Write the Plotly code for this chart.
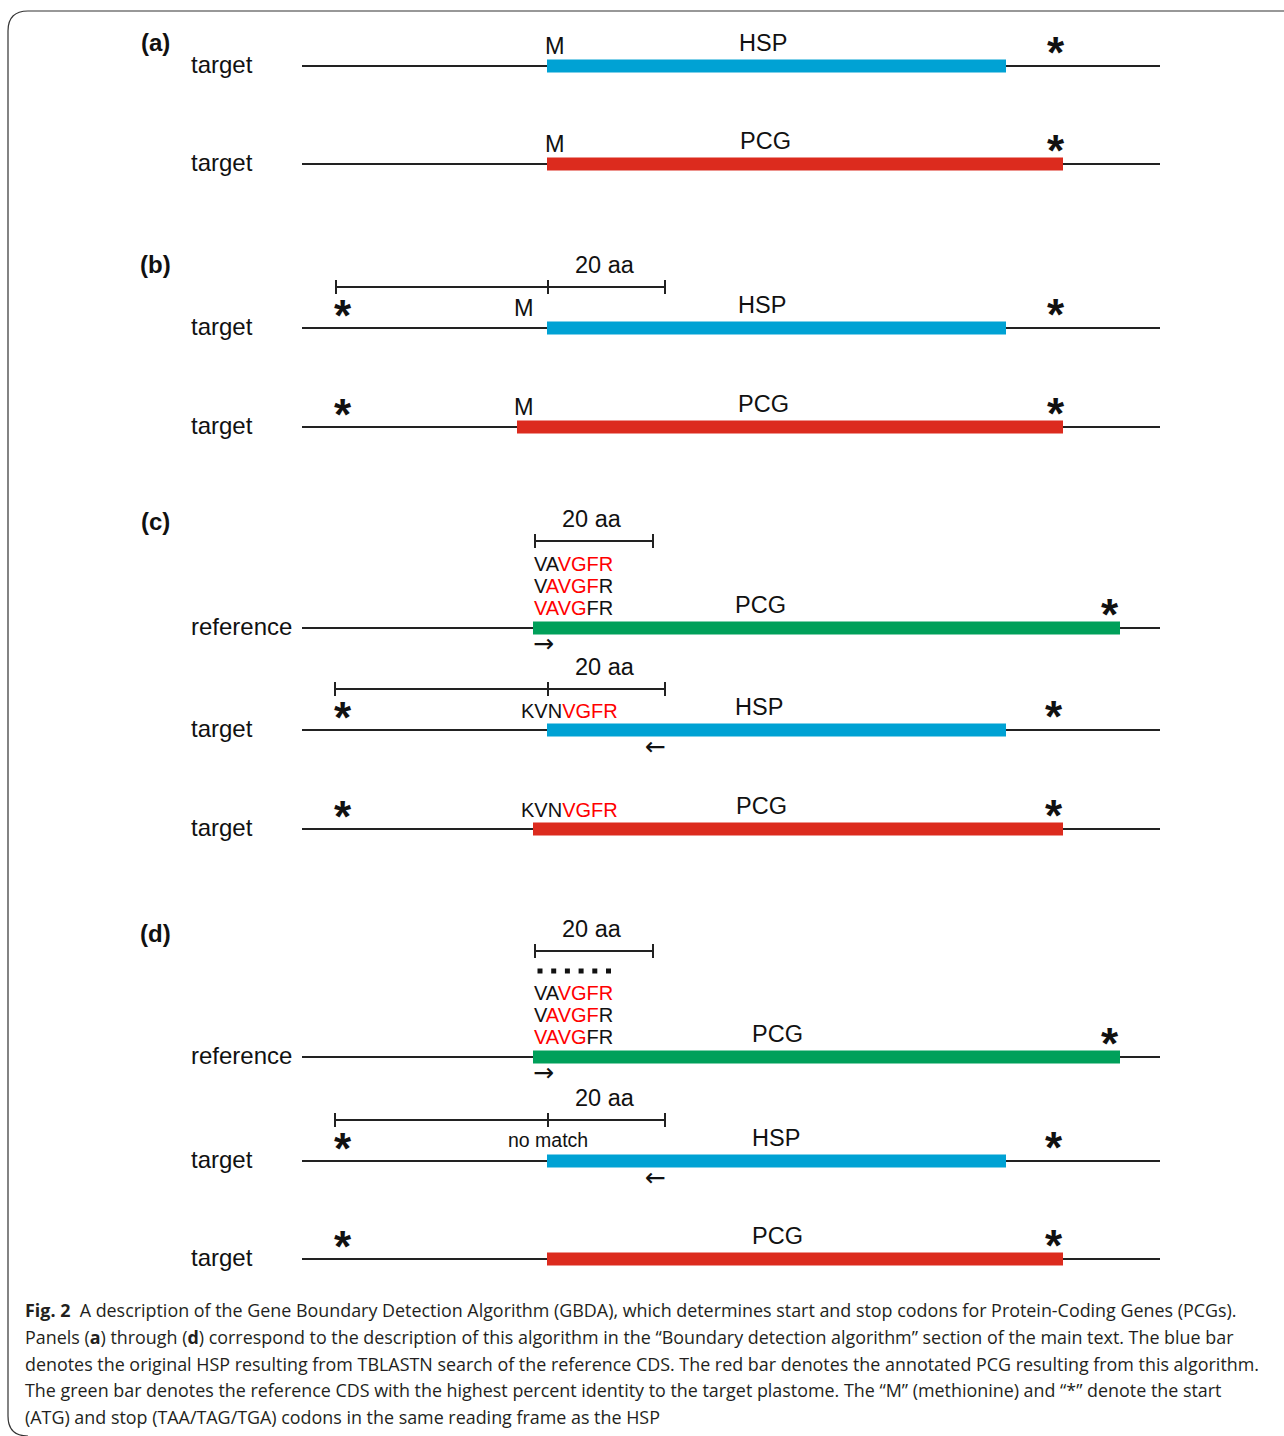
import plotly.graph_objects as go

# ---------------- data ----------------
row_labels = ["target", "target", "target", "target", "reference",
              "target", "target", "reference", "target", "target"]
row_panel = ["a", "a", "b", "b", "c", "c", "c", "d", "d", "d"]
bar_kind = ["HSP", "PCG", "HSP", "PCG", "REF", "HSP", "PCG", "REF", "HSP", "PCG"]
bar_text = ["HSP", "PCG", "HSP", "PCG", "PCG", "HSP", "PCG", "PCG", "HSP", "PCG"]
# gene coordinates along the horizontal axis
seq_start = [302] * 10
seq_end = [1160] * 10
bar_start = [547, 547, 547, 517, 533, 547, 533, 533, 547, 547]
bar_end = [1006, 1063, 1006, 1063, 1120, 1006, 1063, 1120, 1006, 1063]
bar_label_pos = [763, 765, 762, 763, 760, 759, 761, 777, 776, 777]
start_codon_pos = [555, 555, 524, 524, None, None, None, None, None, None]
left_stop_pos = [None, None, 343, 343, None, 343, 343, None, 343, 343]
right_stop_pos = [1056, 1056, 1056, 1056, 1110, 1054, 1054, 1110, 1054, 1054]

# 20 aa windows: (row index, tick positions)
window_rows = [2, 4, 5, 7, 8]
window_ticks = [[336, 548, 665], [535, 653], [335, 548, 665], [535, 653], [335, 548, 665]]
window_text = "20 aa"

# sequence annotations
ref_seq_lines = [
    [("VA", "black"), ("VGFR", "red")],
    [("V", "black"), ("AVGF", "red"), ("R", "black")],
    [("VAVG", "red"), ("FR", "black")],
]
target_seq = [("KVN", "black"), ("VGFR", "red")]
no_match_text = "no match"
n_gap_dots = 6

caption_lines = [
    "<b>Fig. 2</b>  A description of the Gene Boundary Detection Algorithm (GBDA), which determines start and stop codons for Protein-Coding Genes (PCGs).",
    "Panels (<b>a</b>) through (<b>d</b>) correspond to the description of this algorithm in the \u201cBoundary detection algorithm\u201d section of the main text. The blue bar",
    "denotes the original HSP resulting from TBLASTN search of the reference CDS. The red bar denotes the annotated PCG resulting from this algorithm.",
    "The green bar denotes the reference CDS with the highest percent identity to the target plastome. The \u201cM\u201d (methionine) and \u201c*\u201d denote the start",
    "(ATG) and stop (TAA/TAG/TGA) codons in the same reading frame as the HSP",
]

# ---------------- layout / styles ----------------
W, H = 1284, 1436
row_y = [66, 164, 328, 427, 628, 730, 829, 1057, 1161, 1259]
panel_y = {"a": 42, "b": 264, "c": 521, "d": 933}
bar_colors = {"HSP": "#00A2D4", "PCG": "#DC2B1E", "REF": "#00A05A"}
FONT = "Liberation Sans, Arial, sans-serif"
TXT = "#111111"

fig = go.Figure()
shapes = []
ann = []


def text(x, y, s, size=23, xanchor="center", bold=False, color=TXT, family=FONT):
    ann.append(dict(x=x, y=y, text=(f"<b>{s}</b>" if bold else s), showarrow=False,
                    xanchor=xanchor, yanchor="middle",
                    font=dict(size=size, color=color, family=family)))


def rich(parts):
    return "".join(f'<span style="color:{"#FF0000" if c == "red" else "#111111"}">{t}</span>'
                   for t, c in parts)


# border (rounded at left corners)
shapes.append(dict(type="path", xref="x", yref="y",
                   path=f"M {W} 11 L 28 11 Q 8 11 8 31 L 8 1416 Q 8 1436 28 1436",
                   line=dict(color="#333333", width=1.2)))

# panel labels
for p, y in panel_y.items():
    text(155, y, f"({p})", size=24, bold=True)

for i in range(len(row_labels)):
    y = row_y[i]
    text(189, y - 2, row_labels[i], size=24, xanchor="left")
    fig.add_trace(go.Scatter(x=[seq_start[i], seq_end[i]], y=[y, y], mode="lines",
                             line=dict(color="#222222", width=2), hoverinfo="skip",
                             showlegend=False))
    shapes.append(dict(type="rect", xref="x", yref="y", x0=bar_start[i], x1=bar_end[i],
                       y0=y - 6.5, y1=y + 6.5, fillcolor=bar_colors[bar_kind[i]],
                       line=dict(width=0)))
    text(bar_label_pos[i], y - 23, bar_text[i], size=23.5)
    if start_codon_pos[i] is not None:
        text(start_codon_pos[i], y - 20, "M", size=23.5)
    if left_stop_pos[i] is not None:
        text(left_stop_pos[i], y - 13, "*", size=44, bold=True)
    if right_stop_pos[i] is not None:
        text(right_stop_pos[i], y - 14, "*", size=44, bold=True)

# 20 aa windows
for r, ticks in zip(window_rows, window_ticks):
    if bar_kind[r] == "REF":
        yb = row_y[r] - (106 if row_panel[r] == "d" else 87)
    else:
        yb = row_y[r] - 41
    fig.add_trace(go.Scatter(x=[ticks[0], ticks[-1]], y=[yb, yb], mode="lines",
                             line=dict(color="#222222", width=2), hoverinfo="skip",
                             showlegend=False))
    for t in ticks:
        shapes.append(dict(type="line", xref="x", yref="y", x0=t, x1=t, y0=yb - 7, y1=yb + 7,
                           line=dict(color="#222222", width=2)))
    text((ticks[-2] + ticks[-1]) / 2 - 2, yb - 22, window_text, size=23.5)

# sequences
for i in range(len(row_labels)):
    y = row_y[i]
    if bar_kind[i] == "REF":
        for k, parts in enumerate(ref_seq_lines):
            text(bar_start[i] - 1, y - 64 + 22 * k, rich(parts), size=20, xanchor="left")
        text(bar_start[i] - 2, y + 15, "\u2192", size=25, xanchor="left",
             family="DejaVu Sans, sans-serif")
        if row_panel[i] == "d":
            xs = [bar_start[i] + 7 + 13.7 * k for k in range(n_gap_dots)]
            fig.add_trace(go.Scatter(x=xs, y=[y - 86] * n_gap_dots, mode="markers",
                                     marker=dict(symbol="square", size=5, color="#111111"),
                                     hoverinfo="skip", showlegend=False))
    elif bar_kind[i] in ("HSP", "PCG") and row_panel[i] == "c":
        text(519, y - 19, rich(target_seq), size=20, xanchor="left")
    elif bar_kind[i] == "HSP" and row_panel[i] == "d":
        text(548, y - 21, no_match_text, size=19.5)
    if bar_kind[i] == "HSP" and row_panel[i] in ("c", "d"):
        text(643, y + 16, "\u2190", size=25, xanchor="left",
             family="DejaVu Sans, sans-serif")

# caption
for k, line in enumerate(caption_lines):
    text(23, 1310 + 26.8 * k, line, size=17.9, xanchor="left", color="#231F20",
         family="Open Sans, sans-serif")

fig.update_layout(
    width=W, height=H, margin=dict(l=0, r=0, t=0, b=0),
    paper_bgcolor="white", plot_bgcolor="white",
    xaxis=dict(range=[0, W], visible=False, fixedrange=True),
    yaxis=dict(range=[H, 0], visible=False, fixedrange=True),
    shapes=shapes, annotations=ann, showlegend=False,
)
fig.write_html("out.html")
